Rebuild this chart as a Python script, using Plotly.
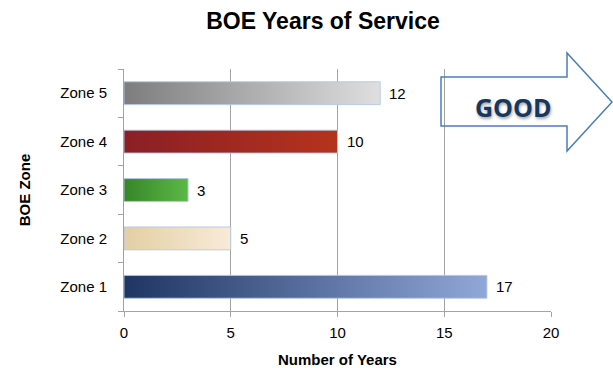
import plotly.graph_objects as go

# Data
zones = ["Zone 1", "Zone 2", "Zone 3", "Zone 4", "Zone 5"]
years = [17, 5, 3, 10, 12]
grad_start = ["#1f3563", "#e3cfa4", "#368628", "#8a1f25", "#7d7d7d"]
grad_end = ["#90a7d8", "#f8ebd8", "#5db847", "#b5331c", "#dfdfdf"]
x_ticks = [0, 5, 10, 15, 20]

W, H = 613, 368
ML, MR, MT, MB = 124, 62, 69, 57
half = 0.236  # half bar thickness in category units

fig = go.Figure()

for i, (z, v, c0, c1) in enumerate(zip(zones, years, grad_start, grad_end)):
    fig.add_trace(go.Scatter(
        x=[0, v, v, 0, 0],
        y=[i - half, i - half, i + half, i + half, i - half],
        mode="lines",
        fill="toself",
        fillgradient=dict(type="horizontal", colorscale=[[0, c0], [1, c1]]),
        line=dict(color="rgba(178,198,228,0.9)", width=1),
        hoverinfo="skip",
        showlegend=False,
    ))
    fig.add_annotation(
        x=v, y=i, text=str(v), showarrow=False,
        xanchor="left", yanchor="middle", xshift=7,
        font=dict(family="Liberation Sans, Arial", size=15, color="#000000"),
    )

# Outlined "GOOD" arrow in pixel space, converted to paper coordinates
pw, ph = W - ML - MR, H - MT - MB
def px(x):
    return (x - ML) / pw
def py(y):
    return (H - MB - y) / ph

arrow_pts = [(441, 77), (567, 77), (567, 53), (612, 102),
             (567, 151), (567, 126), (441, 126)]
path = "M " + " L ".join(f"{px(a):.4f},{py(b):.4f}" for a, b in arrow_pts) + " Z"
fig.add_shape(type="path", path=path, xref="paper", yref="paper",
              line=dict(color="#4a7ebb", width=1.5), fillcolor="rgba(0,0,0,0)",
              layer="above")
fig.add_annotation(
    x=px(513), y=py(107), xref="paper", yref="paper", text="<b>GOOD</b>",
    showarrow=False, xanchor="center", yanchor="middle",
    font=dict(family="Open Sans", size=25, color="#17375e",
              shadow="1px 2px 3px rgba(0,0,0,0.35)"),
)

axis_grey = "#a3a3a3"
fig.update_layout(
    width=W, height=H,
    margin=dict(l=ML, r=MR, t=MT, b=MB),
    paper_bgcolor="white", plot_bgcolor="white",
    font=dict(family="Liberation Sans, Arial", size=15, color="#000000"),
    title=dict(text="<b>BOE Years of Service</b>", x=323 / W, xanchor="center",
               y=1 - 21 / H, yanchor="middle", yref="container",
               font=dict(family="Liberation Sans, Arial", size=23, color="#000000")),
    xaxis=dict(
        range=[0, 20], tickvals=x_ticks, showgrid=True, gridcolor=axis_grey,
        gridwidth=1, showline=True, linecolor=axis_grey, linewidth=1,
        ticks="outside", ticklen=5, tickcolor=axis_grey, zeroline=False,
        tickfont=dict(size=15), ticklabelstandoff=3, automargin=False,
        title=dict(text="<b>Number of Years</b>", standoff=18,
                   font=dict(size=15)),
    ),
    yaxis=dict(
        range=[-0.5, 4.5], tickvals=list(range(len(zones))), ticktext=zones,
        showgrid=False, showline=True, linecolor=axis_grey, linewidth=1,
        ticks="", zeroline=False, ticklabelstandoff=13, automargin=False,
        minor=dict(tickmode="array",
                   tickvals=[k - 0.5 for k in range(len(zones) + 1)],
                   ticks="outside", ticklen=5, tickcolor=axis_grey),
        tickfont=dict(size=15),
        title=dict(text="<b>BOE Zone</b>", standoff=26, font=dict(size=15)),
    ),
)

fig.write_html("out.html")
